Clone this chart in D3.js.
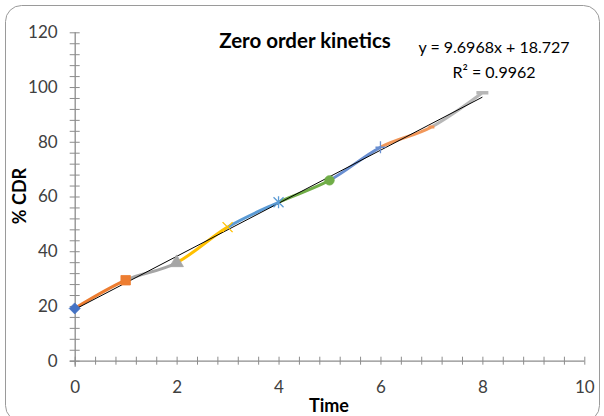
<!DOCTYPE html>
<html>
<head>
<meta charset="utf-8">
<script src="https://cdn.jsdelivr.net/npm/d3@7"></script>
<style>
  html, body { margin: 0; padding: 0; background: #fff; }
  svg { display: block; }
  text { font-family: Lato, "Open Sans", sans-serif; }
</style>
</head>
<body>
<svg id="chart" width="604" height="416"></svg>
<script>
// ---- data ----
const times = [0, 1, 2, 3, 4, 5, 6, 7, 8];
const cdr = [19.1, 29.4, 35.8, 48.8, 57.9, 65.9, 78.0, 85.4, 97.9];
const markerTypes = ["diamond", "square", "triangle", "x", "star", "circle", "plus", "dash", "longdash"];
const xTicks = [0, 2, 4, 6, 8, 10];
const yTicks = [0, 20, 40, 60, 80, 100, 120];
const slope = 9.6968, intercept = 18.727, r2 = 0.9962;
const title = "Zero order kinetics";
const xTitle = "Time", yTitle = "% CDR";

// ---- styles ----
const palette = ["#4472C4", "#ED7D31", "#A5A5A5", "#FFC000", "#5B9BD5", "#70AD47", "#698ED0", "#F1975A", "#B7B7B7"];
const axisColor = "#8C8C8C";
const labelColor = "#404040";

const svg = d3.select("#chart");

// frame
svg.append("rect").attr("x", 5.5).attr("y", 5.5).attr("width", 594).attr("height", 416)
  .attr("rx", 16).attr("fill", "#fff").attr("stroke", "#9a9a9a").attr("stroke-width", 1);

const x = d3.scaleLinear().domain([0, 10]).range([74.7, 584.3]);
const y = d3.scaleLinear().domain([0, 120]).range([360.7, 32.3]);

// axes (crossing tick marks)
const xMinor = d3.range(0, 10.001, 0.4);
const yMinor = d3.range(0, 120.001, 4);

const gx = svg.append("g").attr("transform", `translate(0,${y(0)})`)
  .call(d3.axisBottom(x).tickValues(xMinor).tickSize(4).tickFormat(""));
gx.selectAll(".tick line").attr("y1", -4).attr("y2", 4);
const gy = svg.append("g").attr("transform", `translate(${x(0)},0)`)
  .call(d3.axisLeft(y).tickValues(yMinor).tickSize(5).tickFormat(""));
gy.selectAll(".tick line").attr("x1", 5).attr("x2", -5);
[gx, gy].forEach(g => {
  g.select(".domain").attr("stroke", axisColor).attr("stroke-width", 1.3);
  g.selectAll(".tick line").attr("stroke", axisColor).attr("stroke-width", 1);
});
gy.select(".domain").attr("d", `M0.5,${y(0) + 6}V${y(120)}`);
gx.select(".domain").attr("d", `M${x(0) - 5},0.5H${x(10)}`);

// tick labels
const gxl = svg.append("g").attr("transform", `translate(0,${y(0)})`)
  .call(d3.axisBottom(x).tickValues(xTicks).tickSize(0).tickPadding(20).tickFormat(d3.format("d")));
gxl.select(".domain").remove();
gxl.selectAll("text").attr("fill", labelColor).style("font-size", "17px").style("font-family", "Lato, sans-serif");
const gyl = svg.append("g").attr("transform", `translate(${x(0)},0)`)
  .call(d3.axisLeft(y).tickValues(yTicks).tickSize(0).tickPadding(17).tickFormat(d3.format("d")));
gyl.select(".domain").remove();
gyl.selectAll("text").attr("fill", labelColor).style("font-size", "17px").style("font-family", "Lato, sans-serif");

// series: smooth line split into coloured segments
const pts = times.map((t, i) => [t, cdr[i]]);
const line = d3.line().x(d => x(d[0])).y(d => y(d[1])).curve(d3.curveCardinal.tension(0));
const defs = svg.append("defs");
for (let i = 0; i < pts.length - 1; i++) {
  defs.append("clipPath").attr("id", "seg" + i)
    .append("rect").attr("x", x(times[i])).attr("y", 0)
    .attr("width", x(times[i + 1]) - x(times[i])).attr("height", 416);
  svg.append("path").attr("d", line(pts)).attr("clip-path", `url(#seg${i})`)
    .attr("fill", "none").attr("stroke", palette[i + 1]).attr("stroke-width", 3)
    .attr("stroke-linecap", "butt");
}

// trendline
svg.append("line")
  .attr("x1", x(0)).attr("y1", y(intercept))
  .attr("x2", x(8)).attr("y2", y(intercept + slope * 8))
  .attr("stroke", "#000").attr("stroke-width", 1);

// markers
const sym = { square: d3.symbolSquare, triangle: d3.symbolTriangle, circle: d3.symbolCircle };
pts.forEach((p, i) => {
  const cx = x(p[0]), cy = y(p[1]);
  const c = palette[i];
  const t = markerTypes[i];
  const g = svg.append("g").attr("transform", `translate(${cx},${cy})`);
  if (sym[t]) {
    const size = { square: 90, triangle: 80, circle: 70 }[t];
    g.append("path").attr("d", d3.symbol(sym[t], size)()).attr("fill", c).attr("stroke", c).attr("stroke-width", 0.8);
  } else if (t === "diamond") {
    g.append("path").attr("d", "M0,-5.5L5.5,0L0,5.5L-5.5,0Z").attr("fill", c).attr("stroke", c).attr("stroke-width", 0.8);
  } else if (t === "x") {
    g.append("path").attr("d", "M-5,-5L5,5M-5,5L5,-5").attr("stroke", c).attr("stroke-width", 1.3);
  } else if (t === "star") {
    g.append("path").attr("d", "M-5,-5L5,5M-5,5L5,-5M0,-6L0,6").attr("stroke", c).attr("stroke-width", 1.3);
  } else if (t === "plus") {
    g.append("path").attr("d", "M-5,0L5,0M0,-6L0,6").attr("stroke", c).attr("stroke-width", 1.3);
  } else if (t === "dash") {
    g.append("path").attr("d", "M-3,0L3,0").attr("stroke", c).attr("stroke-width", 3);
  } else if (t === "longdash") {
    g.append("path").attr("d", "M-6,0L6,0").attr("stroke", c).attr("stroke-width", 3.5);
  }
});

// title
svg.append("text").attr("x", 305).attr("y", 48).attr("text-anchor", "middle")
  .style("font-size", "20.5px").style("font-weight", "bold").attr("fill", "#000").text(title);

// equation
svg.append("text").attr("x", 494).attr("y", 53).attr("text-anchor", "middle")
  .style("font-size", "16px").attr("fill", "#000")
  .text(`y = ${slope}x + ${intercept}`);
svg.append("text").attr("x", 494).attr("y", 78).attr("text-anchor", "middle")
  .style("font-size", "16px").attr("fill", "#000")
  .text(`R² = ${r2}`);

// axis titles
svg.append("text").attr("x", 329).attr("y", 412).attr("text-anchor", "middle")
  .style("font-size", "18px").style("font-weight", "bold").attr("fill", "#000").text(xTitle);
svg.append("text").attr("transform", `translate(26,196) rotate(-90)`).attr("text-anchor", "middle")
  .style("font-size", "18px").style("font-weight", "bold").attr("fill", "#000").text(yTitle);
</script>
</body>
</html>
